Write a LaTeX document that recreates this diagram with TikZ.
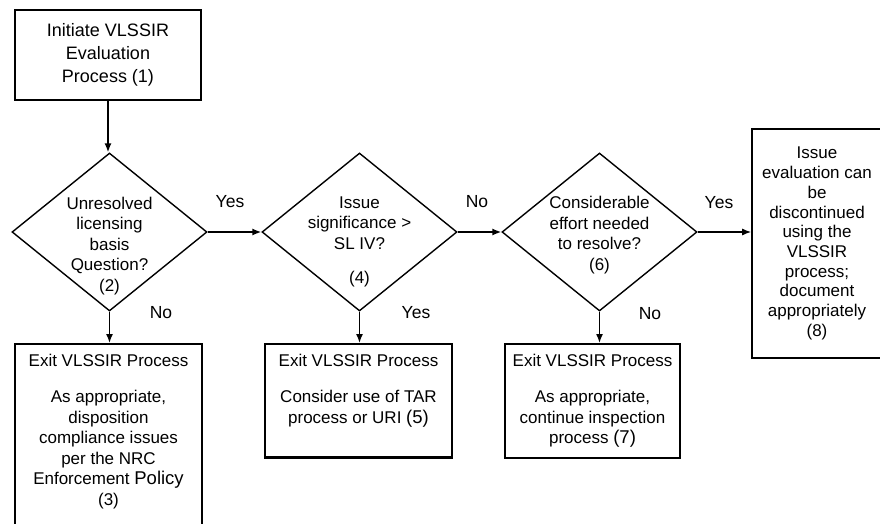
\documentclass[tikz,border=0pt]{standalone}
\usepackage{fontspec}
\setmainfont{Liberation Sans}
\usetikzlibrary{shapes.geometric,arrows.meta}

\begin{document}
\begin{tikzpicture}[x=1pt,y=-1pt,
    txt/.style={align=center,font=\fontsize{17}{20.5}\selectfont},
    stepbox/.style={txt,draw,line width=2.2pt,inner xsep=4pt,inner ysep=10pt,anchor=north},
    decide/.style={draw,shape=diamond,line width=1.4pt,minimum width=195pt,%
      minimum height=158pt,inner sep=0pt},
    ans/.style={font=\fontsize{17.5}{20}\selectfont},
    flow/.style={line width=1.4pt,-{Latex[length=9pt,width=7pt]}}]
      \useasboundingbox (0,0) rectangle (880,524) ;
      \clip (0,0) rectangle (880,524) ;
      \node[stepbox,anchor=center,minimum width=186pt,minimum height=90pt,%
      font=\fontsize{18}{23}\selectfont] (b1) at (108,55) %
      {Initiate VLSSIR\\ Evaluation\\ Process (1)} ;
      \node[decide] (d2) at (109.5,232) {} ;
      \node[decide] (d4) at (359.5,232) {} ;
      \node[decide] (d6) at (599.5,232) {} ;
      \node[txt] (q2) at (109.5,246) {Unresolved\\ licensing\\ basis\\ Question?\\ (2)} ;
      \node[txt] (q4) at (359.5,242) {Issue\\ significance >\\ SL IV?\\[14pt] (4)} ;
      \node[txt] (q6) at (599.5,235) {Considerable\\ effort needed\\ to resolve?\\ (6)} ;
      \node[stepbox,minimum width=187pt] (b3) at (108.5,343) %
      {Exit VLSSIR Process\\[16pt] As appropriate,\\ disposition\\ compliance issues\\ %
      per the NRC\\ Enforcement {\fontsize{18.5}{20.5}\selectfont Policy}\\ %
      (3)\rule[-40pt]{0pt}{1pt}} ;
      \node[stepbox,minimum width=187pt] (b5) at (358.5,343) %
      {Exit VLSSIR Process\\[16pt] Consider use of TAR\\ %
      process or URI {\fontsize{18.5}{20.5}\selectfont (5)}\rule[-24pt]{0pt}{1pt}} ;
      \node[stepbox,minimum width=175pt] (b7) at (592.5,343) %
      {Exit VLSSIR Process\\[16pt] As appropriate,\\ continue inspection\\ %
      process {\fontsize{18.5}{20.5}\selectfont (7)}\rule[-4pt]{0pt}{1pt}} ;
      \node[stepbox,anchor=center,line width=1.6pt,minimum width=130pt,%
      minimum height=229pt,font=\fontsize{17}{19.7}\selectfont] (b8) at (817,243.5) %
      {Issue\\ evaluation can\\ be\\ discontinued\\ using the\\ VLSSIR\\ process;\\ %
      document\\ appropriately\\ (8)} ;
      \draw[flow] (b1.south) -- (b1.south |- d2.north) ;
      \draw[flow] (d2.east) -- (d4.west) ;
      \draw[flow] (d4.east) -- (d6.west) ;
      \draw[flow] (d6.east) -- (d6.east -| b8.west) ;
      \draw[flow] (d2.south) -- (d2.south |- b3.north) ;
      \draw[flow] (d4.south) -- (d4.south |- b5.north) ;
      \draw[flow] (d6.south) -- (d6.south |- b7.north) ;
      \node[ans] (y2) at (230,202) {Yes} ;
      \node[ans] (n4) at (477,202) {No} ;
      \node[ans] (y6) at (719,203) {Yes} ;
      \node[ans] (n2) at (161,313) {No} ;
      \node[ans] (y4) at (416,313) {Yes} ;
      \node[ans] (n6) at (650,314) {No} ;
    \end{tikzpicture}
\end{document}
